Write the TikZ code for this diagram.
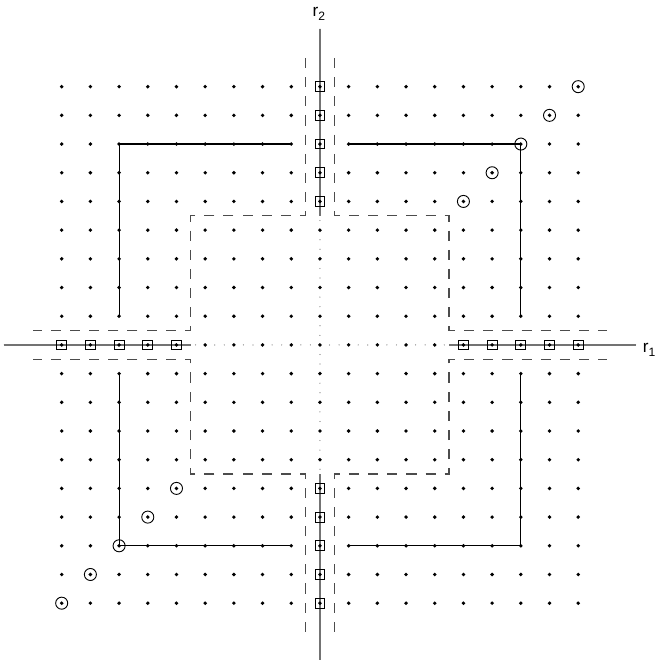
\documentclass[tikz,border=0pt]{standalone}
\usepackage{fontspec}
\setmainfont{Liberation Sans}
\begin{document}
\begin{tikzpicture}[x=1cm,y=1cm,
  axisline/.style={draw=black!55, line width=1.4pt},
  axisdots/.style={draw=black!55, line width=1.2pt, line cap=round, dash pattern=on 0pt off 0.333333cm},
  regionline/.style={draw=black!70, line width=1.3pt, dash pattern=on 10pt off 9pt},
  bracket/.style={draw=black, line width=1.1pt},
  gridpt/.style={fill=black},
  boxmark/.style={draw=black, line width=0.9pt},
  ringmark/.style={draw=black, line width=0.9pt},
  axislabel/.style={font=\fontsize{17}{20}\selectfont, inner sep=0pt, anchor=base west}
]
\useasboundingbox (-11.15,-10.98) rectangle (11.74,12.02);

% axes
\draw[axisdots] (-11,0) -- (11,0);
\draw[axisdots] (0,-11) -- (0,11);
\draw[axisline] (-11,0) -- (-4.5,0);
\draw[axisline] (4.5,0) -- (11,0);
\draw[axisline] (0,4.5) -- (0,11);
\draw[axisline] (0,-4.5) -- (0,-11);

% axis labels
\node[axislabel] (r2) at (-0.26,11.45) {r\raisebox{-0.45ex}{\fontsize{12}{13}\selectfont 2}};
\node[axislabel] (r1) at (11.25,-0.25) {r\raisebox{-0.45ex}{\fontsize{12}{13}\selectfont 1}};

% dashed cross-shaped region boundary
\draw[regionline] (-0.5,10) -- (-0.5,4.5) -- (-4.5,4.5) -- (-4.5,0.5) -- (-10,0.5);
\draw[regionline] (0.5,10) -- (0.5,4.5) -- (4.5,4.5) -- (4.5,0.5) -- (10,0.5);
\draw[regionline] (-0.5,-10) -- (-0.5,-4.5) -- (-4.5,-4.5) -- (-4.5,-0.5) -- (-10,-0.5);
\draw[regionline] (0.5,-10) -- (0.5,-4.5) -- (4.5,-4.5) -- (4.5,-0.5) -- (10,-0.5);

% solid corner brackets
\draw[bracket] (-7,1) -- (-7,7) -- (-1,7);
\draw[bracket] (1,7) -- (7,7) -- (7,1);
\draw[bracket] (-7,-1) -- (-7,-7) -- (-1,-7);
\draw[bracket] (1,-7) -- (7,-7) -- (7,-1);

% grid points
\foreach \i in {-9,...,9}{
  \foreach \j in {-9,...,9}{
    \fill[gridpt] (\i,\j) circle (1.9pt);
  }
}

% boxes on the axes, rings on the diagonal
\foreach \k in {5,...,9}{
  \draw[boxmark] (\k-0.17,-0.17) rectangle (\k+0.17,0.17);
  \draw[boxmark] (-\k-0.17,-0.17) rectangle (-\k+0.17,0.17);
  \draw[boxmark] (-0.17,\k-0.17) rectangle (0.17,\k+0.17);
  \draw[boxmark] (-0.17,-\k-0.17) rectangle (0.17,-\k+0.17);
  \draw[ringmark] (\k,\k) circle (0.21);
  \draw[ringmark] (-\k,-\k) circle (0.21);
}
\end{tikzpicture}
\end{document}
